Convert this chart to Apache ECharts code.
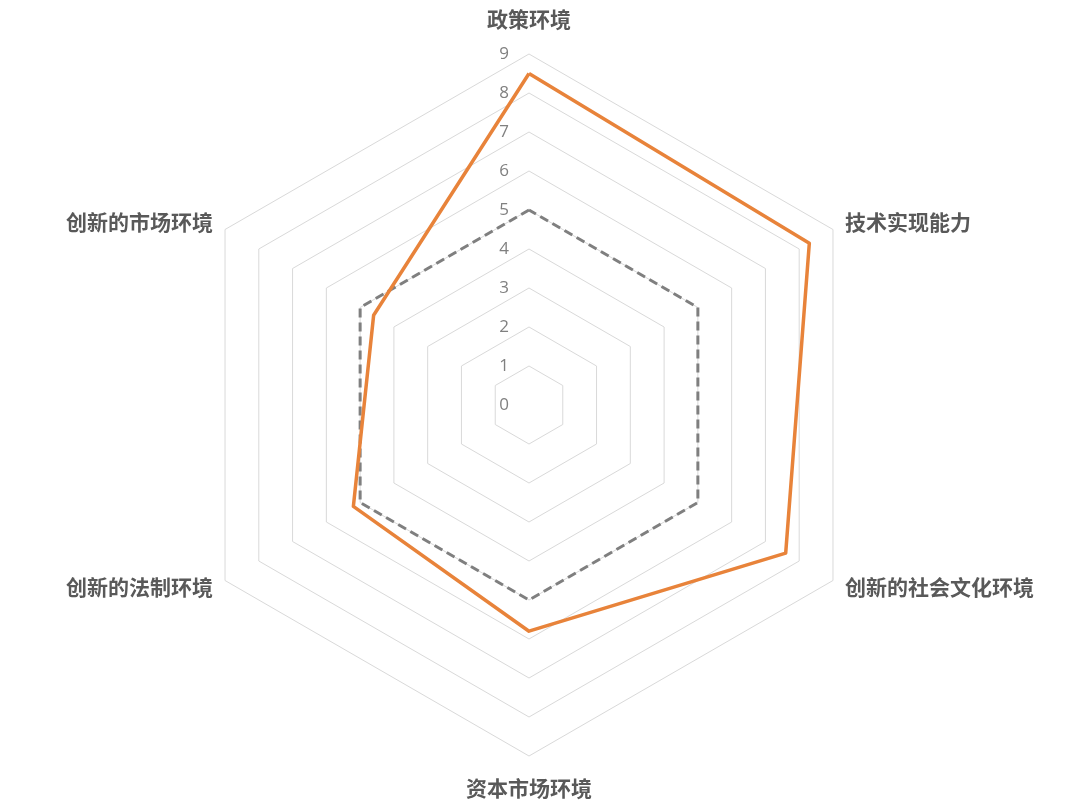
<!DOCTYPE html>
<html>
<head>
<meta charset="utf-8">
<script src="https://cdn.jsdelivr.net/npm/echarts@6/dist/echarts.min.js"></script>
<style>html,body{margin:0;padding:0;background:#fff}#c{width:1080px;height:810px}</style>
</head>
<body>
<div id="c"></div>
<script>
// Indicators listed counterclockwise starting from the top (ECharts radar order)
const indicators = ['政策环境', '创新的市场环境', '创新的法制环境', '资本市场环境', '创新的社会文化环境', '技术实现能力'];
const maxValue = 9;
const baselineValues = [5, 5, 5, 5, 5, 5];
const actualValues = [8.5, 4.6, 5.2, 5.8, 7.6, 8.3];

const chart = echarts.init(document.getElementById('c'));
chart.setOption({
  animation: false,
  backgroundColor: '#fff',
  radar: {
    center: [529, 405],
    radius: 351,
    startAngle: 90,
    splitNumber: 9,
    shape: 'polygon',
    nameGap: 14,
    axisName: {
      color: '#595959',
      fontSize: 21,
      fontWeight: 'bold',
      fontFamily: '"Noto Sans CJK SC", sans-serif',
      formatter: function (name) {
        if (name === '政策环境') return '{t|' + name + '}';
        if (name === '资本市场环境') return '{b|' + name + '}';
        return '{n|' + name + '}';
      },
      rich: {
        t: { fontSize: 21, fontWeight: 'bold', color: '#595959', fontFamily: '"Noto Sans CJK SC", sans-serif', padding: [0, 0, 10, 0] },
        b: { fontSize: 21, fontWeight: 'bold', color: '#595959', fontFamily: '"Noto Sans CJK SC", sans-serif', padding: [8, 0, 0, 0] },
        n: { fontSize: 21, fontWeight: 'bold', color: '#595959', fontFamily: '"Noto Sans CJK SC", sans-serif' }
      }
    },
    axisLine: { show: false },
    axisTick: { show: false },
    splitArea: { show: false },
    splitLine: { lineStyle: { color: '#D9D9D9', width: 1 } },
    axisLabel: { show: false, color: '#808080', fontSize: 17, margin: 20, fontFamily: '"Open Sans", sans-serif' },
    indicator: indicators.map((n, i) => {
      const o = { name: n, min: 0, max: maxValue };
      if (i === 0) o.axisLabel = { show: true };
      return o;
    })
  },
  series: [{
    type: 'radar',
    symbol: 'none',
    data: [
      { value: baselineValues, name: '基准', lineStyle: { color: '#7F7F7F', width: 3, type: [9, 5] } },
      { value: actualValues, name: '实际', lineStyle: { color: '#E8833A', width: 3.5 } }
    ]
  }]
});
</script>
</body>
</html>
